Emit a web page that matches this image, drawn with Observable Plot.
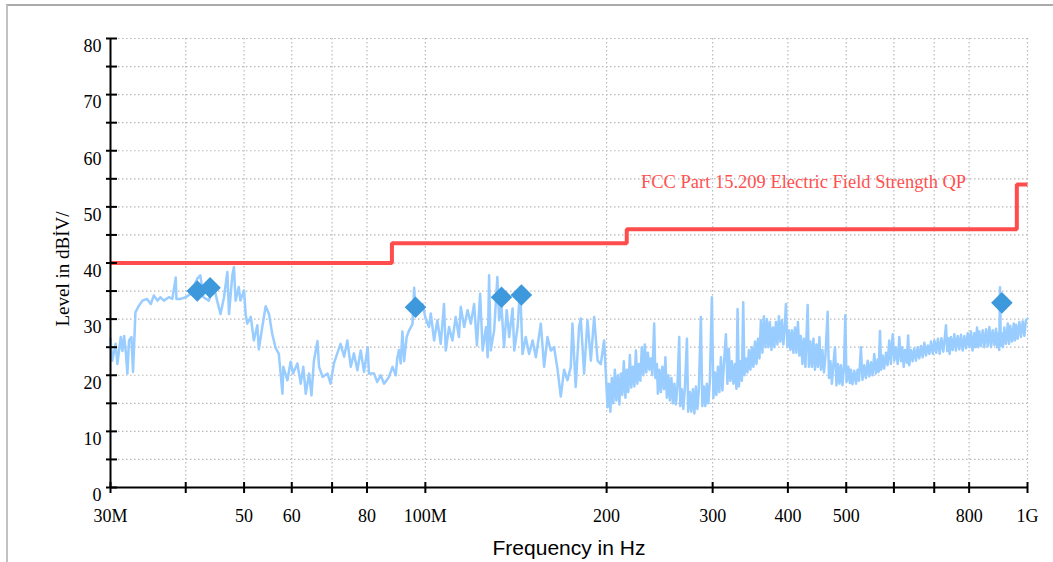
<!DOCTYPE html>
<html><head><meta charset="utf-8">
<script src="https://cdn.jsdelivr.net/npm/d3@7"></script>
<script src="https://cdn.jsdelivr.net/npm/@observablehq/plot@0.6"></script>
<style>
html,body{margin:0;padding:0;background:#fff;overflow:hidden}
#wrap{position:relative;width:1053px;height:562px}
#frame{position:absolute;left:6px;top:4px;width:1100px;height:620px;border-top:2px solid #aaaaaa;border-left:2px solid #c2c2c2;}
#chart{position:absolute;left:0;top:0}
</style></head><body>
<div id="wrap"><div id="frame"></div><div id="chart"></div></div>
<script>
// ---- data ----
const xTicks = [30, 40, 50, 60, 70, 80, 100, 200, 300, 400, 500, 600, 700, 800, 1000];
const xTickLabels = ["30M", "", "50", "60", "", "80", "100M", "200", "300", "400", "500", "", "", "800", "1G"];
const yTicks = [0, 5, 10, 15, 20, 25, 30, 35, 40, 45, 50, 55, 60, 65, 70, 75, 80];
const yLabelTicks = [0, 10, 20, 30, 40, 50, 60, 70, 80];

const limitName = "FCC Part 15.209 Electric Field Strength QP";
const limitFreq = [30, 88, 216, 960, 1000];
const limitLevel = [40, 43.5, 46, 54, 54];

const peakFreq = [41.8, 43.9, 96.3, 133.8, 144.4, 906.7];
const peakLevel = [35.0, 35.6, 32.1, 33.9, 34.3, 32.9];

// spectrum trace [MHz, dBuV/m]
const spectrumLow = [
[30.0,26.5],[30.2,22.6],[30.6,25.6],[30.8,22.0],[31.2,26.8],[31.4,24.3],[31.6,27.0],[31.8,24.3],[32.0,20.3],[32.2,26.2],
[32.5,26.8],[32.7,20.6],[33.0,31.2],[33.4,32.3],[33.9,33.3],[34.5,33.6],[35.0,32.7],[35.4,34.2],[35.9,33.3],[36.3,33.9],
[36.8,33.3],[37.5,33.9],[38.0,33.6],[38.5,37.4],[38.6,33.6],[39.2,33.6],[40.0,33.9],[40.75,34.5],[41.8,37.2],[42.3,37.8],
[42.8,33.9],[43.7,33.3],[44.5,36.0],[45.1,33.3],[45.7,30.9],[46.3,33.9],[46.9,38.4],[47.2,30.9],[47.8,37.8],[48.1,39.3],
[48.4,33.3],[49.0,35.7],[49.3,33.3],[50.0,35.1],[50.3,30.9],[50.6,29.2],[51.3,30.4],[51.9,26.2],[52.6,28.9],[52.9,24.6],
[53.6,28.6],[54.3,32.3],[55.0,30.9],[55.7,27.3],[56.4,24.9],[57.1,23.8],[57.5,20.3],[57.9,16.7],
[58.1,21.5],[59.0,19.1],[59.74,22.4],[60.3,20.3],[61.3,22.1],[62.1,18.5],[62.7,21.5],[63.3,16.7],[64.1,20.3],[64.7,16.4],
[65.3,22.6],[66.2,26.1],[66.6,21.5],[67.5,19.7],[68.8,20.3],[69.6,18.5],[70.5,22.1],[71.4,23.9],[72.3,25.6],[73.3,23.3],
[74.2,26.2],[75.2,21.5],[76.1,23.9],[77.1,20.9],[78.1,24.4],[79.1,20.6],[80.2,25.0],[80.6,20.3],[82.2,20.3],[83.2,18.8],
[84.3,20.0],[85.4,18.5],[87.0,19.7],[88.2,21.5],[89.3,20.0],[89.8,23.0],[90.4,24.5],[91.0,22.1],[91.6,27.8],[92.2,22.5],
[93.1,26.8],[93.9,27.9],[95.2,29.1],[95.8,35.6],[96.4,30.6],[97.6,31.6],[98.9,32.7],[100.1,30.1]
];
const spectrumMid = [
[101.4,28.6],[102.1,31.0],[103.4,26.2],[104.7,29.8],[106.05,25.6],[107.4,32.7],[108.1,24.4],[109.5,28.6],[110.9,26.2],[112.3,30.4],
[113.7,26.8],[114.5,32.2],[116.0,28.6],[117.5,31.6],[119.0,29.2],[120.5,32.7],[121.8,25.3],[123.3,34.5],[124.5,24.4],[126.1,28.6],
[126.9,23.2],[127.6,37.8],[128.4,24.4],[130.1,28.0],[131.7,37.5],[132.6,29.8],[133.8,32.2],[135.1,25.0],[136.5,31.6],[137.8,26.8],
[139.6,31.9],[140.5,24.4],[142.3,28.6],[143.7,35.7],[145.0,23.8],[146.8,26.8],[148.7,23.8],[150.7,26.2],[152.6,23.2],[155.5,29.2],
[157.5,21.5],[159.5,26.8],[161.55,24.4],[163.6,25.0],[165.8,21.0],[167.85,16.2],[170.0,21.0],[172.2,19.1],[174.4,21.5],[175.5,29.2],
[177.7,17.9],[180.0,28.6],[181.2,30.1],[183.5,20.3],[185.9,29.8],[188.3,22.6],[190.7,30.4],[193.2,22.6],[195.6,22.0],[198.1,26.2],
[200.7,14.3],[201.7,18.5],[202.9,13.5],[204.0,19.5],[205.2,15.0],[206.4,21.0],[207.6,15.5],[208.8,20.0],[210.0,14.8],[211.2,20.3],
[212.4,16.5],[213.6,22.5],[214.9,16.0],[216.1,21.0],[217.3,17.0],[218.6,23.6],[219.8,17.8],[221.1,21.5],[222.4,18.0],[223.7,24.4],
[224.9,18.5],[226.2,22.0],[227.5,19.0],[228.8,25.0],[230.2,20.0],[231.5,25.5],[232.8,20.5],[234.2,24.0],[235.5,21.0],[236.8,23.0],
[238.2,20.0],[239.9,29.2],[241.0,19.5],[242.4,22.0],[243.3,16.7],[244.7,21.0],[246.1,17.0],[247.5,21.5],[249.0,17.5],[250.4,23.2],
[251.8,16.0],[253.3,20.0],[254.7,15.5],[256.2,19.5],[257.7,15.0],[259.2,18.5],[260.7,14.8],[262.2,18.0],[264.0,26.8],[265.1,14.5],
[266.7,17.5],[268.2,14.0],[269.8,17.8],[271.9,26.5],[273.2,13.5],[275.0,17.0],[276.5,13.5],[278.2,17.5],[279.8,13.2],[281.4,18.0],
[283.0,14.0],[284.6,17.5],[286.8,30.4],[288.4,14.5],[290.1,18.0],[291.7,14.5],[293.4,18.5],[295.1,15.0],[296.8,19.0],[299.1,33.9]
];
const spectrumHigh = [
[300.9,16.0],[302.6,20.5],[304.3,16.5],[306.1,21.5],[307.8,17.0],[309.6,23.2],[311.4,17.3],[313.2,22.0],[315.6,27.3],[317.4,18.5],
[319.2,24.7],[321.0,19.0],[322.9,22.5],[324.8,18.5],[326.7,22.0],[328.5,17.6],[330.0,31.8],[331.7,18.0],[333.6,22.5],[335.5,19.0],
[337.2,33.0],[338.8,20.0],[340.7,23.0],[342.7,20.5],[344.6,24.5],[346.6,21.0],[348.6,25.0],[350.6,21.5],[352.7,26.0],[354.7,22.0],
[356.7,26.5],[358.8,23.0],[360.8,29.8],[362.9,24.0],[365.0,30.5],[367.1,25.0],[369.2,30.0],[371.3,25.0],[373.4,29.5],[375.6,24.5],
[377.8,28.5],[379.9,25.0],[382.1,29.5],[384.3,25.5],[386.5,30.5],[388.7,26.0],[391.0,29.8],[393.2,25.5],[395.5,29.0],[397.0,32.7],
[399.3,25.0],[401.6,28.0],[403.9,24.5],[406.2,28.0],[408.6,24.0],[411.0,28.5],[413.3,24.0],[415.7,29.5],[418.1,23.5],[420.4,27.0],
[422.9,22.0],[425.3,26.5],[427.8,21.5],[431.4,32.5],[433.5,21.5],[436.0,26.0],[438.5,21.5],[441.1,26.5],[443.6,21.0],[446.2,25.5],
[448.7,21.5],[451.3,26.8],[453.9,21.0],[456.5,24.5],[459.2,20.5],[461.8,23.5],[465.7,31.3],[468.0,19.5],[470.7,22.5],[473.3,18.5],
[476.1,22.0],[478.9,25.0],[481.7,18.2],[484.4,22.0],[487.2,18.5],[489.9,21.8],[492.8,18.2],[495.7,21.5],[498.2,30.7],[500.5,18.8],
[501.3,19.1],[504,21.5],[507,18.6],[509,21.0],[512,18.4],[515.6,20.8],[519,18.5],[522.2,21.0],
[525,19.0],[528.9,25.0],[532,19.2],[535.7,21.8],[539,19.5],[542.7,22.6],[546,19.8],[549.5,22.3],[553,20.0],[556.6,23.8],
[560,20.3],[563.8,22.8],[566,20.6],[568.9,27.9],[571.5,21.0],[574.7,23.5],[578,21.2],[582.1,24.0],[585.5,21.8],[589.4,26.2],
[593,22.0],[597.2,27.3],[600.9,22.6],[604.5,25.0],[608.8,22.0],[612.5,26.8],[616.4,22.5],[619.5,25.0],[622.9,21.5],[626.5,24.5],
[630.8,22.2],[633.5,27.1],[636.4,21.8],[640.5,24.5],[644.6,22.5],[648.5,24.8],[652.9,22.6],[657,25.0],[661.2,23.0],[665.5,25.2],
[669.8,23.2],[674,25.8],[678.4,23.5],[683,25.3],[687.2,23.8],[691.5,26.0],[696.3,23.8],[700.5,26.2],[705.5,24.0],[710,26.5],
[714.8,23.8],[719.5,26.6],[724.7,24.2],[729,26.8],[732.2,28.9],[735.5,24.3],[739.0,26.6],[742.5,23.8],[746.3,26.8],[751,24.5],
[755.9,27.3],[760.5,24.4],[765.7,27.0],[770.5,24.6],[775.4,27.2],[780.5,24.4],[785.4,27.0],[790.5,24.8],[795.6,27.5],[800.5,25.0],
[805.6,27.8],[810.5,24.4],[816.0,27.5],[820,25.0],[824.5,28.5],[828,25.0],[831.8,27.8],[837,25.2],[842.6,28.0],[848,25.0],
[853.5,28.2],[859,25.2],[864.3,28.6],[870,25.0],[875.2,28.0],[881,25.4],[886.4,28.3],[890.5,25.0],[894.4,27.5],[897.5,24.5],
[900.2,35.7],[903,25.2],[906.1,27.5],[910.5,25.0],[915.2,28.5],[921,25.6],[927.2,29.2],[932,25.6],[936.3,28.8],[942.5,26.0],
[948.8,29.2],[953,26.2],[957.3,29.0],[963,26.5],[969.4,29.5],[975.5,26.8],[982.0,29.6],[988,27.0],[994,29.8],[1000,30.1]
];

// ---- build ----
const spectrum = spectrumLow.concat(spectrumMid, spectrumHigh).map(([f, l]) => ({f, l}));
const limit = limitFreq.map((f, i) => ({f, l: limitLevel[i]}));
const peaks = peakFreq.map((f, i) => ({f, l: peakLevel[i]}));

const diamond = {
  draw(context, size) {
    const h = Math.sqrt(size / 2);
    context.moveTo(0, -h); context.lineTo(h, 0); context.lineTo(0, h); context.lineTo(-h, 0); context.closePath();
  }
};

const serif = "'Liberation Serif', 'Times New Roman', serif";
const grid = {stroke: "#b8b8b8", strokeOpacity: 1, strokeDasharray: "1.5,2.5", strokeWidth: 1.2};

const chart = Plot.plot({
  width: 1053, height: 562,
  marginLeft: 110, marginRight: 26, marginTop: 38, marginBottom: 75,
  x: {type: "log", domain: [30, 1000], axis: null},
  y: {domain: [0, 80], axis: null},
  style: {background: "transparent", overflow: "visible"},
  marks: [
    Plot.gridY(yTicks.filter(d => d > 0), grid),
    Plot.gridX(xTicks.filter(d => d > 30), grid),
    Plot.line(spectrum, {x: "f", y: "l", stroke: "#99ccff", strokeWidth: 2.5}),
    Plot.line(limit, {x: "f", y: "l", curve: "step-after", stroke: "#ff4d4d", strokeWidth: 4, strokeLinejoin: "miter", strokeLinecap: "butt"}),
    Plot.dot(peaks, {x: "f", y: "l", symbol: diamond, r: 8.6, fill: "#3d98dc", stroke: "none"}),
    Plot.ruleY([0], {stroke: "black", strokeWidth: 2}),
    Plot.ruleX([30], {stroke: "black", strokeWidth: 2}),
    Plot.axisY(yTicks, {tickSize: 11, dx: 7, fill: "none", stroke: "black", strokeWidth: 2, label: null}),
    Plot.axisY(yLabelTicks, {tickSize: 0, tickPadding: 9, dy: 8, fontSize: 18, fontFamily: serif, fill: "black", label: null}),
    Plot.axisX(xTicks, {tickSize: 11, dy: -5, fill: "none", stroke: "black", strokeWidth: 2, label: null}),
    Plot.text(xTicks, {x: d => d, text: (d, i) => xTickLabels[i], frameAnchor: "bottom", dy: 34, fontSize: 18, fontFamily: serif, fill: "black"}),
    Plot.text([limitName], {x: 228, y: 54.5, textAnchor: "start", fill: "#ff5050", fontSize: 18.5, fontFamily: serif}),
    Plot.text(["Frequency in Hz"], {frameAnchor: "bottom", dy: 67, fontSize: 21, fontFamily: "'Liberation Sans', Arial, sans-serif", fill: "black"}),
    Plot.text(["Level in dBİV/"], {frameAnchor: "left", textAnchor: "middle", rotate: -90, dx: -48, dy: 6, fontSize: 19, fontFamily: serif, fill: "black"})
  ]
});
document.getElementById("chart").appendChild(chart);
</script>
</body></html>
